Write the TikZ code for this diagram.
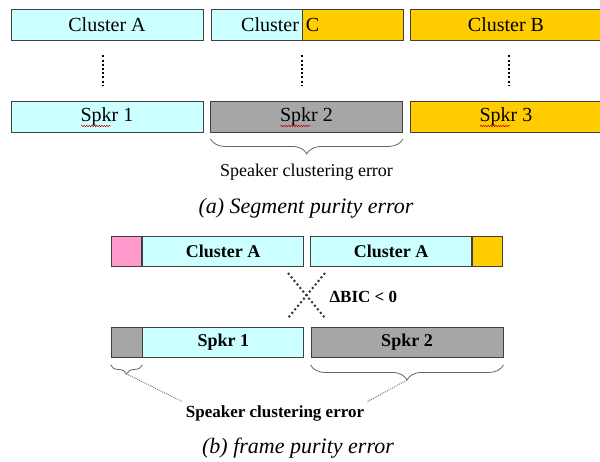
\documentclass[tikz,border=0pt]{standalone}
\usepackage{fontspec}
\setmainfont{Liberation Serif}
\usetikzlibrary{positioning,calc,decorations.pathreplacing,decorations.pathmorphing}

\definecolor{segcyan}{HTML}{CCFFFF}
\definecolor{seggold}{HTML}{FFCC00}
\definecolor{seggray}{HTML}{A6A6A6}
\definecolor{segpink}{HTML}{FF99CC}
\definecolor{segedge}{HTML}{404040}

\tikzset{
  seg/.style={draw=segedge, line width=0.9pt, minimum height=31pt, inner sep=0pt,
    font=\fontsize{20}{24}\selectfont},
  segb/.style={seg, minimum height=30pt, font=\bfseries\fontsize{18}{22}\selectfont},
  vlink/.style={line width=2.2pt, dash pattern=on 2pt off 2.2pt, shorten >=15pt, shorten <=15pt},
  xlink/.style={line width=2pt, dash pattern=on 2pt off 2.6pt, black!80},
  errbrace/.style={decorate, decoration={brace, mirror, amplitude=#1}, draw=black!60, line width=0.8pt},
  errlink/.style={line width=0.8pt, dash pattern=on 1pt off 1pt, black!60},
  squig/.style={red!80!black, line width=0.5pt, decorate,
    decoration={snake, amplitude=0.7pt, segment length=2.5pt}},
  caption/.style={font=\itshape\fontsize{22}{26}\selectfont}
}

\begin{document}
\begin{tikzpicture}[x=1pt, y=1pt]

    % Fix the page to the reference size
    \useasboundingbox (0,0) rectangle (600,461);

    % (a) Top row: clusters
    \node[seg, fill=segcyan, minimum width=192pt] (CA) at (107,436.5) {Cluster A};
    \node[seg, fill=segcyan, text width=85pt, inner xsep=3pt, align=right] (CC1) at (256.5,436.5) {Cluster};
    \node[seg, fill=seggold, text width=95pt, inner xsep=3pt, align=left, right=0pt of CC1] (CC2) {C};
    \node[seg, fill=seggold, minimum width=192pt] (CB) at (506,436.5) {Cluster B};

    % (a) Bottom row: speakers
    \node[seg, fill=segcyan, minimum width=192pt] (S1) at (107,344) {Spkr 1};
    \node[seg, fill=seggray, minimum width=192pt] (S2) at (306.5,344) {Spkr 2};
    \node[seg, fill=seggold, minimum width=192pt] (S3) at (506,344) {Spkr 3};

    % Spell check marks under the speaker labels
    \foreach \s in {S1,S2,S3}
        \draw[squig] ($(\s.center)+(-26,-9)$) -- ($(\s.center)+(4,-9)$);

    % Dotted links between rows
    \draw[vlink] (CA.south -| 103,0) -- (S1.north -| 103,0);
    \draw[vlink] (CC1.south -| 302,0) -- (S2.north -| 302,0);
    \draw[vlink] (CB.south -| 509,0) -- (S3.north -| 509,0);

    % Brace and its label
    \draw[errbrace=15pt] ($(CC1.south west |- S2.south)+(0,-6)$) -- ($(S2.south east)+(0,-6)$);
    \node[font=\fontsize{18}{22}\selectfont] (EA) at (306.5,289) {Speaker clustering error};

    % Caption (a)
    \node[caption] (CapA) at (306,253) {(a) Segment purity error};

    % (b) Top row: clusters
    \node[segb, fill=segpink, minimum width=30pt] (TP) at (126.7,210) {};
    \node[segb, fill=segcyan, minimum width=161pt, right=0pt of TP] (TA) {Cluster A};
    \node[segb, fill=segcyan, minimum width=161pt] (TB) at (391.2,210) {Cluster A};
    \node[segb, fill=seggold, minimum width=30pt, right=0pt of TB] (TO) {};

    % (b) Bottom row: speakers
    \node[segb, fill=seggray, minimum width=31pt] (SG) at (126.5,118.5) {};
    \node[segb, fill=segcyan, minimum width=161pt, right=0pt of SG] (SA) {Spkr 1};
    \node[segb, fill=seggray, minimum width=192pt] (SB) at (407,118.5) {Spkr 2};

    % Crossed dotted links
    \coordinate (X1) at (288,188);
    \coordinate (X2) at (325,188);
    \coordinate (X3) at (288,143);
    \coordinate (X4) at (325,143);
    \draw[xlink] (X1) -- (X4);
    \draw[xlink] (X2) -- (X3);
    \node[font=\bfseries\fontsize{17}{20}\selectfont, anchor=west] (BIC) at (326,164) {ΔBIC < 0};

    % Braces under the wrong frames
    \draw[errbrace=9pt] ($(SG.south west)+(0,-7)$) -- ($(SG.south east)+(0,-7)$);
    \draw[errbrace=15pt] ($(SB.south west)+(0,-7)$) -- ($(SB.south east)+(0,-7)$);
    \coordinate (BL) at ($(SG.south)+(0,-16)$);
    \coordinate (BR) at ($(SB.south)+(0,-22)$);

    % Label and its links to the braces
    \node[font=\bfseries\fontsize{17}{20}\selectfont] (EB) at (275,48) {Speaker clustering error};
    \draw[errlink] (BL) -- (EB.north west);
    \draw[errlink] (BR) -- (EB.north east);

    % Caption (b)
    \node[caption] (CapB) at (298,13) {(b) frame purity error};

\end{tikzpicture}
\end{document}
